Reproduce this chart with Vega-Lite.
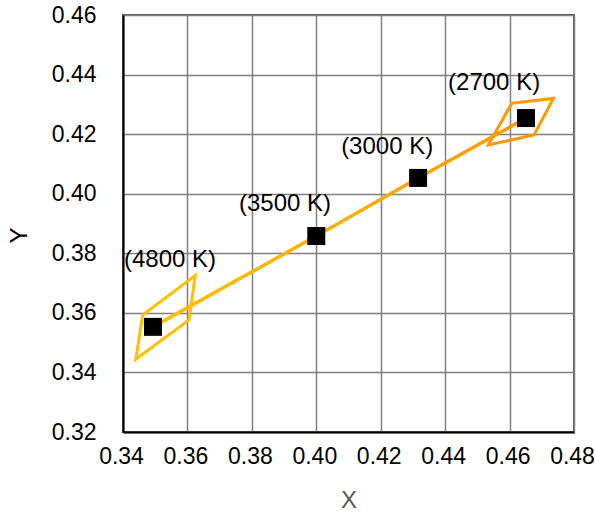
{
  "$schema": "https://vega.github.io/schema/vega-lite/v6.json",
  "autosize": "none",
  "width": 451,
  "height": 417,
  "padding": {"left": 123, "top": 15, "right": 21, "bottom": 82},
  "background": "white",
  "config": {
    "font": "Liberation Sans",
    "view": {"stroke": "#595959", "strokeWidth": 2},
    "axis": {
      "grid": true,
      "gridColor": "#808080",
      "gridWidth": 1.5,
      "ticks": false,
      "labelFlush": false,
      "labelOverlap": false,
      "domainColor": "#000000",
      "domainWidth": 2,
      "labelFont": "Liberation Sans",
      "labelFontSize": 23,
      "labelColor": "#000000",
      "titleFont": "Liberation Sans",
      "titleFontSize": 24,
      "titleFontWeight": "normal",
      "titleColor": "#595959"
    }
  },
  "datasets": {
    "quads": [
      {"poly": "4800 K", "ord": 1, "x": 0.3461, "y": 0.3593},
      {"poly": "4800 K", "ord": 2, "x": 0.3624, "y": 0.3725},
      {"poly": "4800 K", "ord": 3, "x": 0.3605, "y": 0.3576},
      {"poly": "4800 K", "ord": 4, "x": 0.3440, "y": 0.3445},
      {"poly": "4800 K", "ord": 5, "x": 0.3461, "y": 0.3593},
      {"poly": "2700 K", "ord": 1, "x": 0.4607, "y": 0.4304},
      {"poly": "2700 K", "ord": 2, "x": 0.4736, "y": 0.4320},
      {"poly": "2700 K", "ord": 3, "x": 0.4676, "y": 0.4197},
      {"poly": "2700 K", "ord": 4, "x": 0.4534, "y": 0.4164},
      {"poly": "2700 K", "ord": 5, "x": 0.4607, "y": 0.4304}
    ],
    "points": [
      {"cct": "(4800 K)", "x": 0.3493, "y": 0.3553, "lx": 0.3546, "ly": 0.3777},
      {"cct": "(3500 K)", "x": 0.4000, "y": 0.3858, "lx": 0.3903, "ly": 0.3965},
      {"cct": "(3000 K)", "x": 0.4316, "y": 0.4053, "lx": 0.4220, "ly": 0.4157},
      {"cct": "(2700 K)", "x": 0.4651, "y": 0.4254, "lx": 0.4552, "ly": 0.4372}
    ]
  },
  "layer": [
    {
      "data": {"name": "quads"},
      "mark": {"type": "line", "strokeWidth": 3, "strokeJoin": "miter"},
      "encoding": {
        "x": {"field": "x", "type": "quantitative", "scale": {"domain": [0.34, 0.48], "nice": false, "zero": false},
              "axis": {"values": [0.34, 0.36, 0.38, 0.40, 0.42, 0.44, 0.46, 0.48], "format": ".2f", "labelPadding": 13, "labelOffset": -2, "titlePadding": 20}, "title": "X"},
        "y": {"field": "y", "type": "quantitative", "scale": {"domain": [0.32, 0.46], "nice": false, "zero": false},
              "axis": {"values": [0.32, 0.34, 0.36, 0.38, 0.40, 0.42, 0.44, 0.46], "format": ".2f", "labelPadding": 27, "titlePadding": 20, "titleY": 220, "titleColor": "#000000"}, "title": "Y"},
        "detail": {"field": "poly"},
        "order": {"field": "ord", "type": "quantitative"},
        "color": {"field": "poly", "type": "nominal", "scale": {"domain": ["4800 K", "2700 K"], "range": ["#FFC000", "#FF9900"]}, "legend": null}
      }
    },
    {
      "data": {"name": "points"},
      "mark": {"type": "line", "strokeWidth": 3.5,
               "color": {"gradient": "linear", "x1": 0, "y1": 0, "x2": 1, "y2": 0,
                         "stops": [{"offset": 0, "color": "#FFC000"}, {"offset": 1, "color": "#FF9900"}]}},
      "encoding": {
        "x": {"field": "x", "type": "quantitative"},
        "y": {"field": "y", "type": "quantitative"},
        "order": {"field": "x", "type": "quantitative"}
      }
    },
    {
      "data": {"name": "points"},
      "mark": {"type": "point", "shape": "square", "filled": true, "color": "#000000", "opacity": 1, "size": 324},
      "encoding": {
        "x": {"field": "x", "type": "quantitative"},
        "y": {"field": "y", "type": "quantitative"}
      }
    },
    {
      "data": {"name": "points"},
      "mark": {"type": "text", "font": "Liberation Sans", "fontSize": 24, "color": "#000000", "align": "center", "baseline": "middle"},
      "encoding": {
        "x": {"field": "lx", "type": "quantitative"},
        "y": {"field": "ly", "type": "quantitative"},
        "text": {"field": "cct"}
      }
    }
  ]
}
